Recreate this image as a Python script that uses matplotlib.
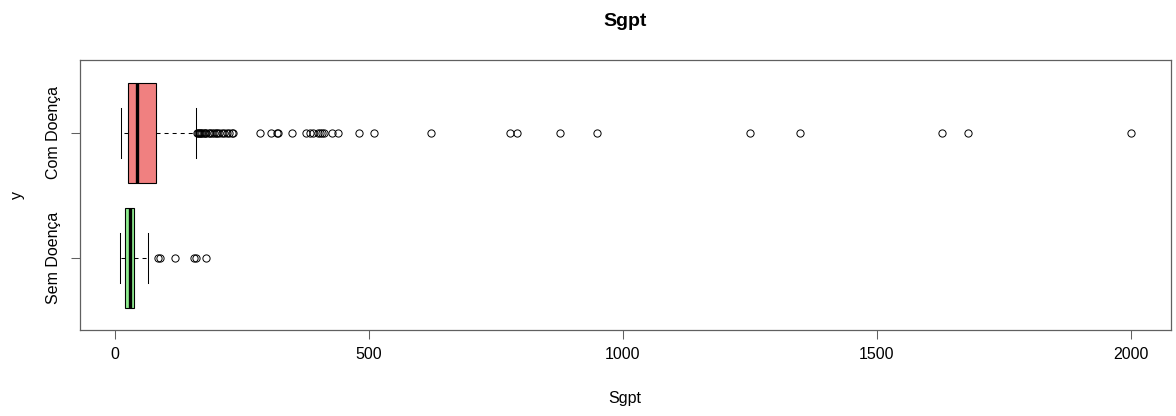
import matplotlib.pyplot as plt

# boxplot summary for each group (Sgpt)
groups = ["Sem Doença", "Com Doença"]
box_colors = ["#90EE90", "#F08080"]
whisker_low = [10.5, 12]
q1 = [20, 26]
medians = [29.5, 42.5]
q3 = [38, 80]
whisker_high = [65.5, 159]
outliers_sem = [85, 88, 119, 155, 160, 180]
outliers_com = [161, 163, 165, 168, 170, 172, 175, 178, 180, 185, 188, 191, 194,
                198, 200, 205, 210, 215, 220, 225, 230, 233,
                285, 308, 318, 321, 348, 377, 383, 390, 400, 404, 408, 412, 427, 440,
                481, 510, 622, 778, 791, 876, 949, 1250, 1348, 1628, 1679, 2000]
x_ticks = [0, 500, 1000, 1500, 2000]

plt.rcParams["font.family"] = ["Liberation Sans", "DejaVu Sans"]
plt.rcParams["lines.scale_dashes"] = False

W, H = 1176, 416
fig = plt.figure(figsize=(W / 100, H / 100), dpi=100)
ax = fig.add_axes([80 / W, (H - 330) / H, (1170.7 - 80) / W, 270 / H])

stats = []
for i, name in enumerate(groups):
    stats.append({
        "label": name,
        "whislo": whisker_low[i],
        "q1": q1[i],
        "med": medians[i],
        "q3": q3[i],
        "whishi": whisker_high[i],
        "fliers": [outliers_sem, outliers_com][i],
    })

bp = ax.bxp(stats, positions=[1, 2], widths=0.8, capwidths=0.4,
            orientation="horizontal", patch_artist=True,
            boxprops=dict(edgecolor="black", linewidth=0.8),
            medianprops=dict(color="black", linewidth=2.4, solid_capstyle="butt"),
            whiskerprops=dict(color="black", linewidth=0.75, linestyle=(0, (2.9, 2.9))),
            capprops=dict(color="black", linewidth=0.75),
            flierprops=dict(marker="o", markersize=5.2, markerfacecolor="none",
                            markeredgecolor="black", markeredgewidth=0.7))
for patch, c in zip(bp["boxes"], box_colors):
    patch.set_facecolor(c)

ax.set_xlim(-69, 2079)
ax.set_ylim(0.42, 2.58)
ax.set_xticks(x_ticks)
ax.set_xticklabels([str(t) for t in x_ticks], fontsize=11.5)
ax.set_yticks([1, 2])
ax.set_yticklabels(groups, fontsize=11.5, rotation=90, va="center")
ax.tick_params(axis="both", length=6.5, width=0.75, color="#606060")
ax.tick_params(axis="x", pad=6)
ax.tick_params(axis="y", pad=7)
for s in ax.spines.values():
    s.set_color("#606060")
    s.set_linewidth(0.9)

fig.text(625 / W, 1 - 22 / H, "Sgpt", ha="center", va="center",
         fontsize=14, fontweight="bold")
fig.text(625 / W, 1 - 399 / H, "Sgpt", ha="center", va="center", fontsize=11.5)
fig.text(17 / W, 1 - 195 / H, "y", ha="center", va="center", fontsize=11.5, rotation=90)

fig.savefig("out.png", dpi=100)
